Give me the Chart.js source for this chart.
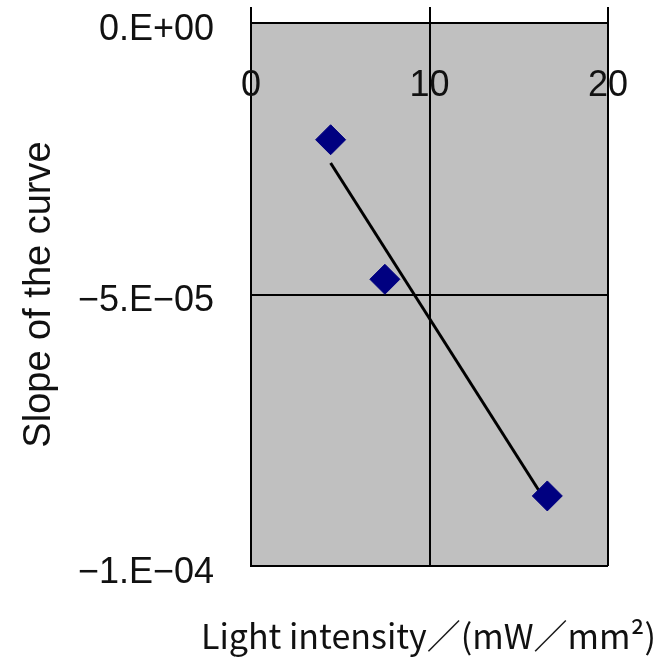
<!DOCTYPE html>
<html lang="en">
<head>
    <meta charset="UTF-8">
    <title>Slope vs light intensity</title>
    <style>
        html, body { margin: 0; padding: 0; background: #fff; }
        #wrap { width: 666px; height: 659px; }
    </style>
</head>
<body>
    <div id="wrap">
        <canvas id="myChart" width="666" height="659"></canvas>
    </div>

    <script src="https://cdn.jsdelivr.net/npm/chart.js"></script>

    <script>
        // Data
        const intensity = [4.46, 7.5, 16.6];
        const slope = [-2.15e-5, -4.72e-5, -8.71e-5];

        const xTicks = [0, 10, 20];
        const xTickLabels = ['0', '10', '20'];
        const yTicks = [0, -5e-5, -1e-4];
        const yTickLabels = ['0.E+00', '\u22125.E\u221205', '\u22121.E\u221204'];
        const xTitle = 'Light intensity\uff0f(mW\uff0fmm\u00b2)';

        // linear trend line (least squares), like the spreadsheet trendline
        function trend(xs, ys) {
            let n = xs.length, mx = 0, my = 0;
            for (let i = 0; i < n; i++) { mx += xs[i]; my += ys[i]; }
            mx /= n; my /= n;
            let sxy = 0, sxx = 0;
            for (let i = 0; i < n; i++) {
                sxy += (xs[i] - mx) * (ys[i] - my);
                sxx += (xs[i] - mx) * (xs[i] - mx);
            }
            const b = sxy / sxx;
            const a = my - b * mx;
            const x0 = Math.min(...xs), x1 = Math.max(...xs);
            return [{ x: x0, y: a + b * x0 }, { x: x1, y: a + b * x1 }];
        }

        const points = intensity.map((x, i) => ({ x: x, y: slope[i] }));

        const plotBg = {
            id: 'plotBg',
            beforeDraw(chart) {
                const a = chart.chartArea;
                const c = chart.ctx;
                c.save();
                c.fillStyle = '#c0c0c0';
                c.fillRect(a.left, a.top, a.right - a.left, a.bottom - a.top);
                c.restore();
            },
            afterDraw(chart) {
                const a = chart.chartArea;
                const sx = chart.scales.x;
                const c = chart.ctx;
                c.save();
                // x tick labels sit inside the plot, under the top axis
                c.font = '36px "Liberation Sans", Arial, sans-serif';
                c.fillStyle = '#111';
                c.textAlign = 'center';
                c.textBaseline = 'middle';
                xTicks.forEach((v, i) => {
                    c.fillText(xTickLabels[i], sx.getPixelForValue(v), a.top + 63);
                });
                // x title, wider than the plot so drawn here without squeezing
                c.font = '34px "Noto Sans CJK JP", sans-serif';
                c.fillText(xTitle, (a.left + a.right) / 2 - 1, 636);
                c.restore();
            }
        };

        const ctx = document.getElementById('myChart');

        new Chart(ctx, {
            type: 'scatter',
            data: {
                datasets: [{
                    label: 'slope',
                    data: points,
                    pointStyle: 'rectRot',
                    pointRadius: 15,
                    pointHoverRadius: 15,
                    backgroundColor: '#000080',
                    borderColor: '#000080',
                    borderWidth: 1,
                    order: 0
                }, {
                    type: 'line',
                    label: 'trend',
                    data: trend(intensity, slope),
                    borderColor: '#000',
                    borderWidth: 3,
                    pointRadius: 0,
                    fill: false,
                    order: 1
                }]
            },
            options: {
                responsive: false,
                animation: false,
                layout: { padding: { left: 0, right: 58, top: 0, bottom: 93 } },
                plugins: {
                    legend: { display: false },
                    tooltip: { enabled: false }
                },
                scales: {
                    x: {
                        type: 'linear',
                        position: 'top',
                        min: 0,
                        max: 20,
                        afterBuildTicks: (s) => { s.ticks = xTicks.map(v => ({ value: v })); },
                        ticks: { display: false },
                        grid: { color: '#000', lineWidth: 2, tickLength: 16, drawTicks: true },
                        border: { color: '#000', width: 2 },
                        afterFit: (s) => { s.height = 23; s.paddingLeft = 0; s.paddingRight = 0; }
                    },
                    y: {
                        type: 'linear',
                        min: -1e-4,
                        max: 0,
                        afterBuildTicks: (s) => { s.ticks = yTicks.map(v => ({ value: v })); },
                        ticks: {
                            color: '#111',
                            font: { family: '"Liberation Sans", Arial, sans-serif', size: 36 },
                            padding: 37,
                            labelOffset: 7,
                            callback: (v) => {
                                const i = yTicks.indexOf(v);
                                return i >= 0 ? yTickLabels[i] : '';
                            }
                        },
                        grid: { color: '#000', lineWidth: 2, drawTicks: false },
                        border: { color: '#000', width: 2 },
                        title: {
                            display: true,
                            text: 'Slope of the curve',
                            color: '#111',
                            font: { family: '"Liberation Sans", Arial, sans-serif', size: 38 },
                            padding: { top: 17, bottom: 0 }
                        },
                        afterFit: (s) => { s.width = 251; s.paddingTop = 0; s.paddingBottom = 0; }
                    }
                }
            },
            plugins: [plotBg]
        });
    </script>
</body>
</html>
